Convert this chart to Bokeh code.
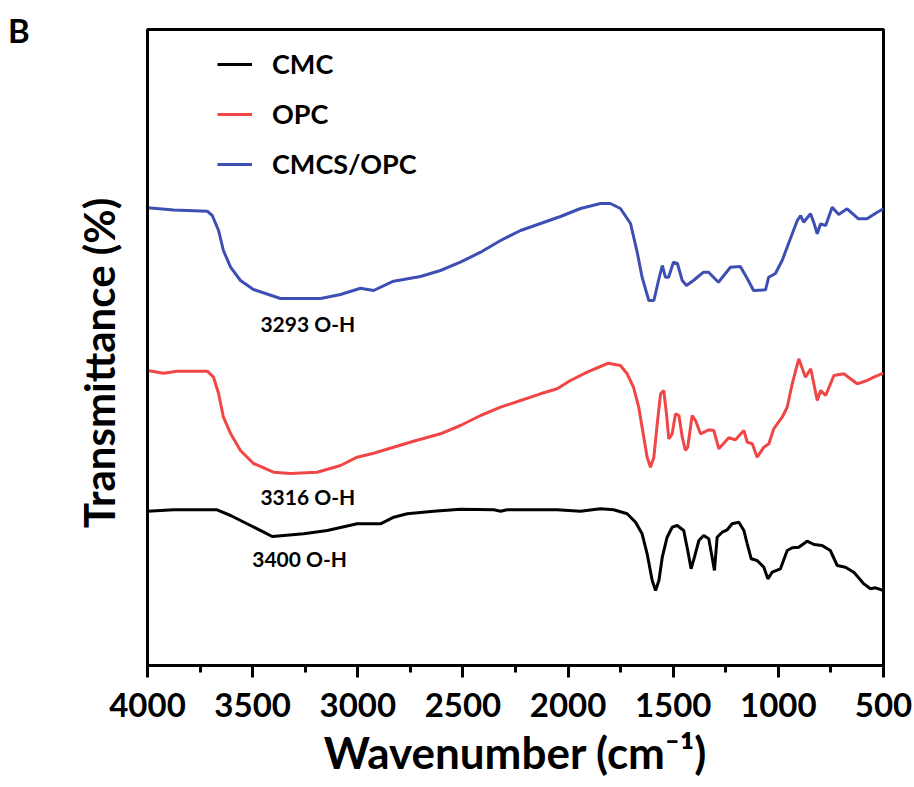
import math
from bokeh.plotting import figure
from bokeh.models import (Range1d, SingleIntervalTicker, FixedTicker, Label, Legend, LegendItem, Div,
                          InlineStyleSheet)
from bokeh.layouts import column
from bokeh.embed import file_html
from bokeh.resources import INLINE

# ---- data (wavenumber in cm^-1, transmittance in arbitrary offset units) ----
cmcs_wn = [4000, 3875, 3716, 3692, 3662, 3639, 3605, 3558, 3496, 3368, 3177, 3082, 2987, 2925,
           2830, 2702, 2607, 2512, 2416, 2321, 2226, 2131, 2036, 1941, 1846, 1799, 1751, 1703,
           1671, 1648, 1616, 1592, 1570, 1552, 1537, 1522, 1499, 1480, 1457, 1437, 1404, 1356,
           1332, 1285, 1228, 1181, 1148, 1118, 1061, 1046, 1014, 982, 952, 910, 894, 880, 847,
           832, 815, 799, 775, 744, 713, 673, 619, 578, 530, 500]
cmcs_t = [457.7, 455.5, 454.3, 450, 435, 415, 398.3, 385, 376, 367, 367, 371, 377.3, 375,
          384.3, 389, 395, 403.3, 413.3, 425, 435, 442, 449, 457, 462, 462, 457, 442,
          413, 388.3, 365, 365, 385, 400, 388.3, 388.3, 403.3, 402, 385, 380, 385, 393.3,
          393.3, 383.3, 398.3, 399, 387, 375, 375.7, 388.3, 392, 405, 421.7, 445, 450, 443.3, 451.7,
          443.3, 431.7, 441.7, 440, 458.3, 451, 456.7, 446.7, 446.7, 453.3, 456.7]

opc_wn = [4000, 3924, 3859, 3716, 3686, 3662, 3639, 3605, 3558, 3496, 3401, 3320, 3193, 3082,
          3003, 2925, 2830, 2735, 2607, 2512, 2416, 2321, 2226, 2131, 2052, 1989, 1909, 1846,
          1808, 1751, 1719, 1689, 1664, 1640, 1624, 1608, 1592, 1576, 1560, 1545, 1532, 1521,
          1505, 1489, 1473, 1457, 1442, 1431, 1410, 1394, 1370, 1331, 1307, 1283, 1236, 1204,
          1164, 1148, 1124, 1101, 1069, 1045, 1022, 982, 958, 934, 903, 871, 846, 815, 799,
          775, 736, 689, 625, 578, 546, 500]
opc_t = [295, 292.3, 294.3, 294.3, 288.3, 272, 248.3, 232, 215, 202, 193.3, 192, 193.3, 200,
         208.3, 212.3, 218.3, 224.3, 231.7, 240, 250, 258.3, 265, 271.7, 276.7, 285, 293.3, 299,
         302.3, 300, 291.7, 278.3, 258.3, 228.3, 208.3, 198.3, 208.3, 241.7, 271.7, 275, 251.7, 226.7,
         231.7, 251.7, 250, 228.3, 215, 218.3, 250, 245, 231.7, 235.7, 235, 216.7, 227.7, 225.7,
         235, 223.3, 221.7, 208.3, 218.3, 221.7, 236.7, 248.3, 258.3, 281.7, 306.7, 288.3, 296.7, 265, 275,
         270, 290, 291.7, 281.7, 285, 288.3, 292.3]

cmc_wn = [4000, 3875, 3669, 3605, 3510, 3447, 3407, 3257, 3145, 3003, 2892, 2829, 2765, 2639,
          2512, 2353, 2321, 2290, 2052, 1941, 1846, 1783, 1719, 1679, 1648, 1624, 1600, 1584,
          1568, 1552, 1529, 1505, 1481, 1450, 1431, 1415, 1399, 1378, 1355, 1331, 1315, 1304,
          1291, 1267, 1243, 1220, 1188, 1164, 1148, 1129, 1101, 1069, 1050, 1029, 990, 958,
          934, 903, 863, 831, 792, 753, 720, 681, 641, 594, 562, 538, 500]
cmc_t = [154.3, 155.7, 155.7, 150, 140, 133.3, 129, 131.7, 135, 141.7, 141.7, 148.3, 151.7, 154.3,
         156.3, 155.7, 154.3, 155.7, 155.7, 154.3, 156.7, 155.7, 151.7, 143.3, 131.7, 111.7, 85, 75,
         85, 108.3, 128.3, 138.3, 140, 135, 115, 96.7, 108.3, 125, 130, 126.7, 108.3, 95,
         128.3, 133.3, 135.7, 141.7, 143.3, 135, 121.7, 106.7, 105, 98.3, 86.7, 93.3, 96.7, 115,
         117.7, 118.3, 124.3, 121, 120, 115, 100, 98.3, 93.3, 81.7, 76.7, 77.7, 75]

series_names = ["CMC", "OPC", "CMCS/OPC"]
series_colors = ["#000000", "#f04646", "#3d4fb2"]

peak_texts = ["3293 O-H", "3316 O-H", "3400  O-H"]
peak_wn = [3463, 3463, 3502]
peak_t = [342, 169, 107]

panel_letter = "B"
x_ticks_interval = 500
FONT = "Lato"

p = figure(frame_width=736, frame_height=636,
           min_border_left=147, min_border_right=31, min_border_top=29, min_border_bottom=118,
           x_range=Range1d(4000, 500), y_range=Range1d(0, 636),
           output_backend="svg", toolbar_location=None)

p.background_fill_color = "white"
p.border_fill_color = "white"
p.outline_line_color = "black"
p.outline_line_width = 3
p.xgrid.visible = False
p.ygrid.visible = False

xa = p.xaxis[0]
xa.ticker = SingleIntervalTicker(interval=x_ticks_interval, num_minor_ticks=2)
xa.axis_line_width = 3
xa.axis_line_color = "black"
xa.major_tick_line_width = 3
xa.minor_tick_line_width = 3
xa.major_tick_out = 12
xa.major_tick_in = 0
xa.minor_tick_out = 7
xa.minor_tick_in = 0
xa.major_label_text_font = FONT
xa.major_label_text_font_style = "bold"
xa.major_label_text_font_size = "33px"
xa.major_label_text_color = "black"
xa.major_label_standoff = 15
xa.axis_label = "Wavenumber (cm\u207b\u00b9)"
xa.axis_label_text_font = FONT
xa.axis_label_text_font_style = "bold"
xa.axis_label_text_font_size = "44px"
xa.axis_label_text_color = "black"
xa.axis_label_standoff = 6

ya = p.yaxis[0]
ya.ticker = FixedTicker(ticks=[])
ya.axis_line_width = 3
ya.axis_line_color = "black"
ya.major_tick_out = 0
ya.major_tick_in = 0
ya.minor_tick_out = 0
ya.minor_tick_in = 0
ya.major_label_text_font_size = "0px"
ya.axis_label = "Transmittance (%)   "
ya.axis_label_text_font = FONT
ya.axis_label_text_font_style = "bold"
ya.axis_label_text_font_size = "42px"
ya.axis_label_text_color = "black"
ya.axis_label_standoff = 24

renderers = []
for wn, t, c in [(cmc_wn, cmc_t, series_colors[0]),
                 (opc_wn, opc_t, series_colors[1]),
                 (cmcs_wn, cmcs_t, series_colors[2])]:
    r = p.line(wn, t, line_color=c, line_width=3)
    renderers.append(r)

legend = Legend(items=[LegendItem(label=n, renderers=[r]) for n, r in zip(series_names, renderers)],
                location=(70, 485), orientation="vertical",
                label_text_font=FONT, label_text_font_style="bold", label_text_font_size="27px",
                label_text_color="black",
                glyph_width=35, glyph_height=30, label_height=30, label_standoff=20, spacing=17,
                padding=0, margin=0, border_line_alpha=0, background_fill_alpha=0)
p.add_layout(legend)

for txt, w, t in zip(peak_texts, peak_wn, peak_t):
    p.add_layout(Label(x=w, y=t, text=txt, text_font=FONT, text_font_style="bold",
                       text_font_size="21px", text_color="black",
                       text_align="left", text_baseline="middle"))

# panel letter, positioned over the figure's top-left corner
letter_css = InlineStyleSheet(css="""
:host, :host * {
  font-family: Lato, sans-serif !important;
  font-weight: bold !important;
  font-size: 33px !important;
  line-height: 40px !important;
  color: black !important;
  margin: 0 !important;
  padding: 0 !important;
}
""")
letter = Div(text=panel_letter, width=40, height=45, stylesheets=[letter_css],
             styles={"position": "absolute", "left": "8px", "top": "10px", "z-index": "10"})

layout = column(p, letter)
open("out.html", "w").write(file_html(layout, INLINE))
